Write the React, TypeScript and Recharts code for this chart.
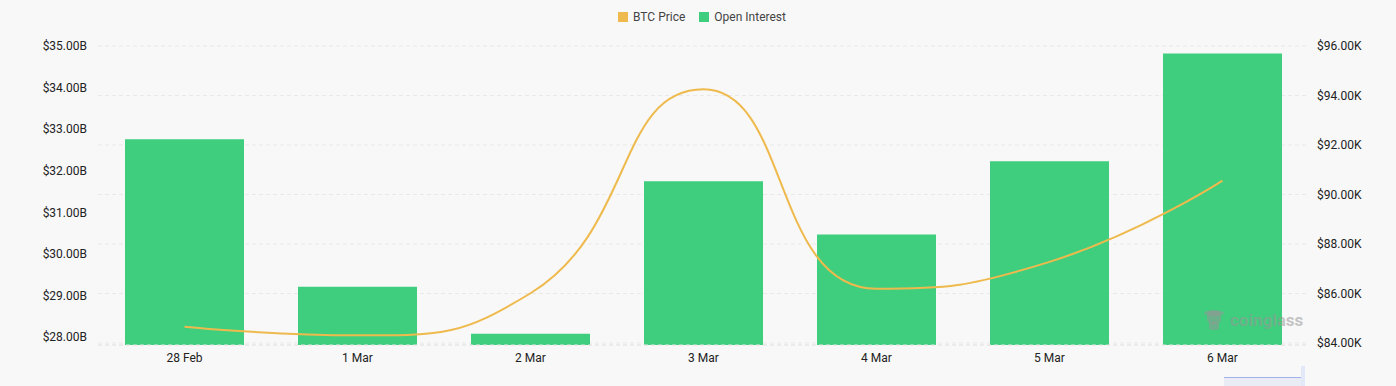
import React from 'react';
import { ComposedChart, Bar, Line, XAxis, YAxis, CartesianGrid, Legend } from 'recharts';

const dates = ['28 Feb', '1 Mar', '2 Mar', '3 Mar', '4 Mar', '5 Mar', '6 Mar'];
const openInterestB = [32.76, 29.21, 28.08, 31.75, 30.47, 32.23, 34.82];
const btcPriceK = [84.66, 84.31, 86.01, 94.25, 86.19, 87.28, 90.56];
const leftTicks = [28, 29, 30, 31, 32, 33, 34, 35];
const rightTicks = [84, 86, 88, 90, 92, 94, 96];
const legendItems = [
  { name: 'BTC Price', color: '#efba4d' },
  { name: 'Open Interest', color: '#3fce7e' },
];

const data = dates.map((d, i) => ({ date: d, oi: openInterestB[i], price: btcPriceK[i] }));

// Smooth curve in the style of ECharts' "smooth: true" line (bezier with clamped control points)
const smoothCurve = (ctx: any) => {
  let pts: number[][] = [];
  const smooth = 0.5;
  const draw = () => {
    if (!pts.length) return;
    ctx.moveTo(pts[0][0], pts[0][1]);
    let cpx0 = pts[0][0];
    let cpy0 = pts[0][1];
    let cpx1 = cpx0;
    let cpy1 = cpy0;
    for (let i = 1; i < pts.length; i++) {
      const [x, y] = pts[i];
      const [prevX, prevY] = pts[i - 1];
      let nextCpx0: number;
      let nextCpy0: number;
      if (i === pts.length - 1) {
        nextCpx0 = x;
        nextCpy0 = y;
      } else {
        const [nextX, nextY] = pts[i + 1];
        let vx = nextX - prevX;
        let vy = nextY - prevY;
        const dx0 = x - prevX;
        const dx1 = nextX - x;
        const dy0 = y - prevY;
        const dy1 = nextY - y;
        const lenPrev = Math.sqrt(dx0 * dx0 + dy0 * dy0);
        const lenNext = Math.sqrt(dx1 * dx1 + dy1 * dy1);
        const ratio = lenNext / (lenNext + lenPrev);
        cpx1 = x + vx * smooth * ratio;
        cpy1 = y + vy * smooth * ratio;
        cpx1 = Math.min(cpx1, Math.max(nextX, x));
        cpy1 = Math.min(cpy1, Math.max(nextY, y));
        cpx1 = Math.max(cpx1, Math.min(nextX, x));
        cpy1 = Math.max(cpy1, Math.min(nextY, y));
        vx = cpx1 - x;
        vy = cpy1 - y;
        nextCpx0 = x - (vx * lenPrev) / lenNext;
        nextCpy0 = y - (vy * lenPrev) / lenNext;
        nextCpx0 = Math.min(nextCpx0, Math.max(prevX, x));
        nextCpy0 = Math.min(nextCpy0, Math.max(prevY, y));
        nextCpx0 = Math.max(nextCpx0, Math.min(prevX, x));
        nextCpy0 = Math.max(nextCpy0, Math.min(prevY, y));
        vx = x - nextCpx0;
        vy = y - nextCpy0;
        cpx1 = x + (vx * lenNext) / lenPrev;
        cpy1 = y + (vy * lenNext) / lenPrev;
      }
      ctx.bezierCurveTo(cpx0, cpy0, nextCpx0, nextCpy0, x, y);
      cpx0 = cpx1;
      cpy0 = cpy1;
    }
  };
  return {
    areaStart() {},
    areaEnd() {},
    lineStart() {
      pts = [];
    },
    lineEnd() {
      draw();
    },
    point(x: number, y: number) {
      pts.push([+x, +y]);
    },
  };
};

const LegendContent = () => (
  <div
    style={{
      height: 20,
      width: 1396,
      display: 'flex',
      justifyContent: 'center',
      alignItems: 'center',
      paddingLeft: 8,
      boxSizing: 'border-box',
      fontSize: 12,
      color: '#444',
    }}
  >
    {legendItems.map((it, i) => (
      <div key={it.name} style={{ display: 'flex', alignItems: 'center', marginLeft: i ? 14 : 0 }}>
        <span style={{ width: 10, height: 10, background: it.color, display: 'inline-block', marginRight: 5 }} />
        <span style={{ lineHeight: '20px' }}>{it.name}</span>
      </div>
    ))}
  </div>
);

export default function App() {
  return (
    <div
      style={{
        position: 'absolute',
        left: 0,
        top: 0,
        width: 1396,
        height: 386,
        background: '#f8f8f8',
        fontFamily: 'Roboto, sans-serif',
        overflow: 'hidden',
      }}
    >
      <ComposedChart width={1396} height={386} data={data} margin={{ top: 26, right: 0, bottom: 11, left: 0 }}>
        <Legend verticalAlign="top" align="center" content={<LegendContent />} wrapperStyle={{ top: 7, left: 0, width: 1396 }} />
        <CartesianGrid yAxisId="right" vertical={false} stroke="#e9e9e9" strokeDasharray="4 3" />
        <XAxis
          dataKey="date"
          interval={0}
          tickLine={false}
          tickSize={0}
          tickMargin={8}
          axisLine={{ stroke: '#e6e6e6', strokeDasharray: '4 3' }}
          tick={{ fontSize: 12, fill: '#222' }}
        />
        <YAxis
          yAxisId="left"
          orientation="left"
          width={98}
          domain={[27.81, 35]}
          ticks={leftTicks}
          allowDataOverflow
          tickLine={false}
          axisLine={false}
          tickSize={0}
          tickMargin={11}
          tick={{ fontSize: 12, fill: '#222' }}
          tickFormatter={(v: number) => `$${v.toFixed(2)}B`}
        />
        <YAxis
          yAxisId="right"
          orientation="right"
          width={87}
          domain={[83.92, 96]}
          ticks={rightTicks}
          allowDataOverflow
          tickLine={false}
          axisLine={false}
          tickSize={0}
          tickMargin={8}
          tick={{ fontSize: 12, fill: '#222' }}
          tickFormatter={(v: number) => `$${v.toFixed(2)}K`}
        />
        <Bar yAxisId="left" dataKey="oi" name="Open Interest" fill="#3fce7e" barSize={119} isAnimationActive={false} />
        <Line
          yAxisId="right"
          dataKey="price"
          name="BTC Price"
          type={smoothCurve as any}
          stroke="#efba4d"
          strokeWidth={2}
          dot={false}
          activeDot={false}
          isAnimationActive={false}
        />
      </ComposedChart>
      <div
        style={{
          position: 'absolute',
          left: 1203,
          top: 308,
          display: 'flex',
          alignItems: 'center',
          pointerEvents: 'none',
          color: 'rgba(150,150,150,0.55)',
          fontWeight: 700,
          fontSize: 17,
        }}
      >
        <svg width={22} height={24} style={{ marginRight: 5 }}>
          <g fill="rgba(150,150,150,0.55)">
            <ellipse cx={11} cy={5} rx={10} ry={3} />
            <rect x={4} y={3} width={14} height={13} rx={5} />
            <rect x={6} y={14} width={10} height={8} rx={3} />
          </g>
        </svg>
        <span>coinglass</span>
      </div>
      <div
        style={{
          position: 'absolute',
          left: 1224,
          top: 377,
          width: 78,
          height: 9,
          background: 'rgba(140,165,230,0.14)',
          borderTop: '1px solid #9fb3ea',
        }}
      />
      <div
        style={{
          position: 'absolute',
          left: 1301,
          top: 366,
          width: 4,
          height: 20,
          background: '#e2e8f8',
        }}
      />
    </div>
  );
}
